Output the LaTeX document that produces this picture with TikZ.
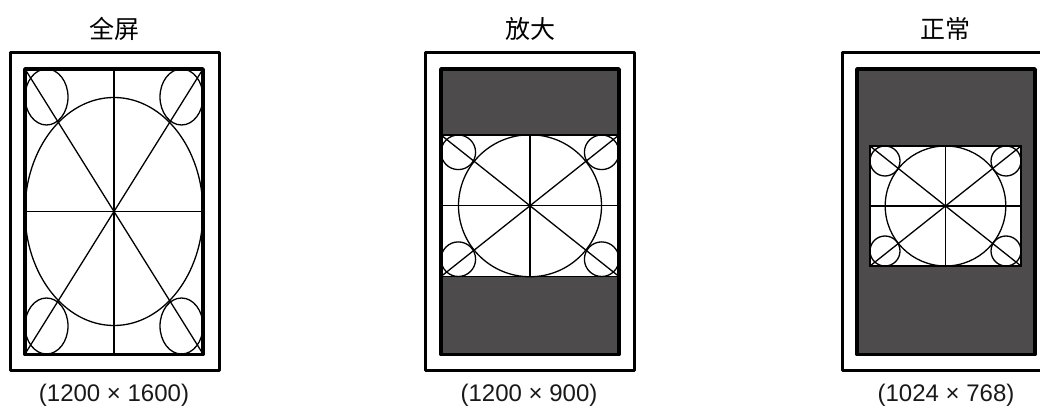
\documentclass[tikz,border=0pt]{standalone}
\usepackage{fontspec}
\setmainfont{Liberation Sans}
\newfontfamily\cjk{Noto Sans CJK SC}
\definecolor{panel}{HTML}{4D4B4C}
\tikzset{
  x=1pt,y=-1pt,
  bezel/.style={draw=black,line width=3pt,line join=round,fill=white},
  screen/.style={draw=black,line width=3.6pt,line join=round},
  cardline/.style={draw=black,line width=1.3pt},
  title/.style={font=\fontsize{25}{30}\selectfont\cjk,inner sep=0pt,text=black},
  size/.style={font=\fontsize{24}{28}\selectfont,inner sep=0pt,text=black!90},
}
% #1,#2 left,top  #3,#4 right,bottom  #5,#6 corner radii  #7,#8 big radii
\newcommand{\testcard}[8]{%
  \path let \n1={(#1+#3)/2},\n2={(#2+#4)/2} in
    coordinate (cc) at (\n1,\n2);
  \fill[white] (#1,#2) rectangle (#3,#4);
  \draw[cardline] (#1,#2) rectangle (#3,#4);
  \draw[cardline] (#1,#2) -- (#3,#4);
  \draw[cardline] (#3,#2) -- (#1,#4);
  \draw[cardline] (cc |- 0,#2) -- (cc |- 0,#4);
  \draw[cardline] (#1,0 |- cc) -- (#3,0 |- cc);
  \draw[cardline] (cc) ellipse [x radius=#7,y radius=#8];
  \draw[cardline] ({#1+#5},{#2+#6}) ellipse [x radius=#5,y radius=#6];
  \draw[cardline] ({#3-#5},{#2+#6}) ellipse [x radius=#5,y radius=#6];
  \draw[cardline] ({#1+#5},{#4-#6}) ellipse [x radius=#5,y radius=#6];
  \draw[cardline] ({#3-#5},{#4-#6}) ellipse [x radius=#5,y radius=#6];
}
\usetikzlibrary{calc}
\begin{document}
\begin{tikzpicture}
\useasboundingbox (0,0) rectangle (1040,411);
\clip (0,0) rectangle (1040,411);
% full
\draw[bezel] (10,53) rectangle (219,370);
\testcard{25}{69}{203}{354}{21.5}{28}{89}{114}
\draw[screen] (25,69) rectangle (203,354.5);
% zoom
\draw[bezel] (425,53) rectangle (634,370);
\fill[panel] (441,69) rectangle (619,354.5);
\testcard{441}{135}{619}{276.5}{17.3}{17.3}{71.5}{71}
\draw[screen] (441,69) rectangle (619,354.5);
% normal
\draw[bezel] (842,53) rectangle (1051,370);
\fill[panel] (857,69) rectangle (1035,354.5);
\testcard{870}{146}{1021}{266}{15}{15}{60.3}{60}
\draw[screen] (857,69) rectangle (1035,354.5);
% text
\node[title] (t1) at (114,29) {全屏};
\node[title] (t2) at (530,29) {放大};
\node[title] (t3) at (945,29) {正常};
\node[size] (s1) at (114,395) {(1200 × 1600)};
\node[size] (s2) at (529,395) {(1200 × 900)};
\node[size] (s3) at (946,395) {(1024 × 768)};
\end{tikzpicture}
\end{document}
